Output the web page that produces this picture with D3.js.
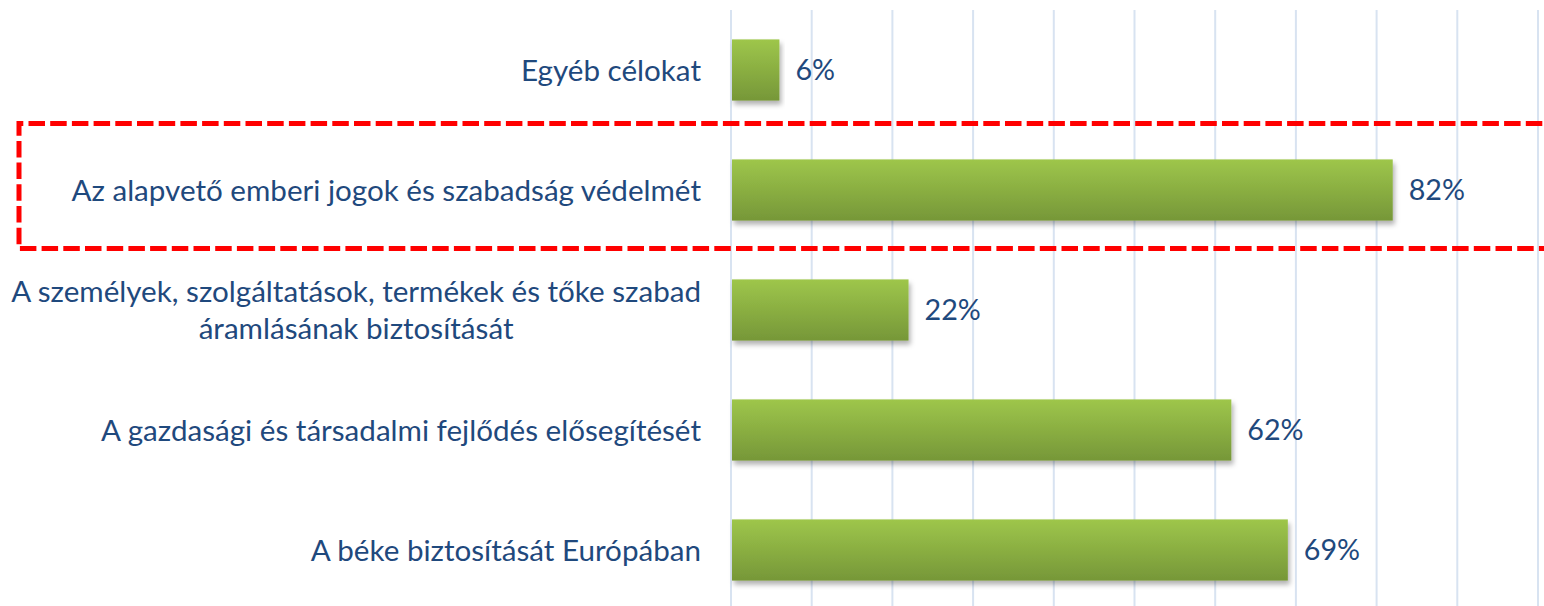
<!DOCTYPE html>
<html>
<head>
<meta charset="utf-8">
<script src="https://cdn.jsdelivr.net/npm/d3@7"></script>
<style>
  html, body { margin: 0; padding: 0; background: #ffffff; }
  svg { display: block; }
  text { font-family: Lato, "Open Sans", sans-serif; fill: #1f497d; }
</style>
</head>
<body>
<svg id="chart" width="1544" height="606"></svg>
<script>
// Survey answers, listed top to bottom (line breaks mark wrapped labels)
const categories = [
  "Egyéb célokat",
  "Az alapvető emberi jogok és szabadság védelmét",
  "A személyek, szolgáltatások, termékek és tőke szabad\náramlásának biztosítását",
  "A gazdasági és társadalmi fejlődés elősegítését",
  "A béke biztosítását Európában"
];
const values = [6, 82, 22, 62, 69];
const gridTicks = [0, 10, 20, 30, 40, 50, 60, 70, 80, 90, 100];
const highlighted = "Az alapvető emberi jogok és szabadság védelmét";

const W = 1544, H = 606;
const margin = { top: 10, right: 6, bottom: -4, left: 731 };
const labelFont = 29.6;
const valueFont = 28.7;

const svg = d3.select("#chart");

const x = d3.scaleLinear().domain([0, 100]).range([margin.left, W - margin.right]);
const y = d3.scaleBand().domain(categories).range([margin.top, H - margin.bottom]).paddingInner(0.49).paddingOuter(0.245);

// Gradient fill and soft drop shadow for the bars
const defs = svg.append("defs");
const grad = defs.append("linearGradient").attr("id", "barFill")
  .attr("x1", 0).attr("y1", 0).attr("x2", 0).attr("y2", 1);
grad.append("stop").attr("offset", "0%").attr("stop-color", "#9ec64b");
grad.append("stop").attr("offset", "100%").attr("stop-color", "#769738");
const shadow = defs.append("filter").attr("id", "barShadow")
  .attr("x", "-5%").attr("y", "-20%").attr("width", "115%").attr("height", "150%");
shadow.append("feDropShadow").attr("dx", 2).attr("dy", 4).attr("stdDeviation", 2.5)
  .attr("flood-color", "#000").attr("flood-opacity", 0.3);

// Vertical gridlines
svg.append("g").selectAll("line").data(gridTicks).join("line")
  .attr("x1", d => x(d)).attr("x2", d => x(d))
  .attr("y1", margin.top).attr("y2", H + 10)
  .attr("stroke", "#d8e3f1").attr("stroke-width", 2);

// Bars
svg.append("g").selectAll("rect").data(categories).join("rect")
  .attr("x", x(0) + 1)
  .attr("y", d => y(d))
  .attr("width", (d, i) => x(values[i]) - x(0) - 1)
  .attr("height", y.bandwidth())
  .attr("fill", "url(#barFill)")
  .attr("filter", "url(#barShadow)");

// Value labels
svg.append("g").selectAll("text").data(categories).join("text")
  .attr("x", (d, i) => x(values[i]) + 16)
  .attr("y", d => y(d) + y.bandwidth() / 2)
  .attr("dy", "0.36em")
  .attr("font-size", valueFont)
  .text((d, i) => values[i] + "%");

// Category labels: right-aligned block, wrapped lines centred on each other
const labelRight = x(0) - 30;
const lineHeight = 37;
const labels = svg.append("g");
categories.forEach(cat => {
  const lines = cat.split("\n");
  const g = labels.append("g");
  const cy = y(cat) + y.bandwidth() / 2;
  const texts = lines.map((ln, k) => g.append("text")
    .attr("font-size", labelFont)
    .attr("y", cy + (k - (lines.length - 1) / 2) * lineHeight)
    .attr("dy", "0.36em")
    .text(ln));
  const widest = d3.max(texts, t => t.node().getComputedTextLength());
  texts.forEach(t => t.attr("text-anchor", "middle").attr("x", labelRight - widest / 2));
});

// Red dashed frame around the highlighted answer (open on the right)
const fy0 = y(highlighted) - (y.step() - y.bandwidth()) / 2 - 6.5;
const fy1 = y(highlighted) + y.bandwidth() + (y.step() - y.bandwidth()) / 2 - 1.5;
const fx0 = 19;
svg.append("path")
  .attr("d", `M${W + 20},${fy0} L${fx0},${fy0} L${fx0},${fy1} L${W + 20},${fy1}`)
  .attr("fill", "none")
  .attr("stroke", "#ff0000")
  .attr("stroke-width", 5)
  .attr("stroke-dasharray", "16.5,5.2");
</script>
</body>
</html>
